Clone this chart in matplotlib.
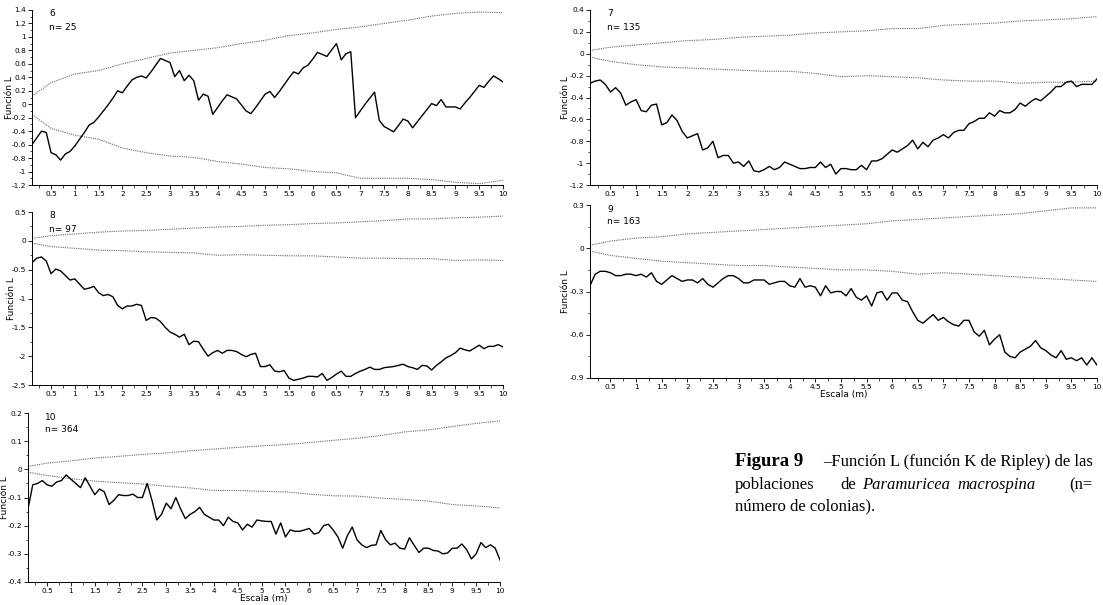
import numpy as np
import matplotlib
matplotlib.use("Agg")
import matplotlib.pyplot as plt
from matplotlib.ticker import MultipleLocator, FuncFormatter

plt.rcParams["font.family"] = "DejaVu Sans"
plt.rcParams["axes.unicode_minus"] = False

# distance classes (m) of the L function, every 0.1 m
escala = np.round(np.arange(1, 101) * 0.1, 1)
# confidence envelopes were read every 0.5 m
env_x = [0.1, 0.5, 1.0, 1.5, 2.0, 2.5, 3.0, 3.5, 4.0, 4.5, 5.0,
         5.5, 6.0, 6.5, 7.0, 7.5, 8.0, 8.5, 9.0, 9.5, 10.0]

# population 6, n = 25
L6 = [-0.60, -0.50, -0.40, -0.42, -0.72, -0.75, -0.83, -0.74, -0.70, -0.62,
      -0.52, -0.42, -0.31, -0.27, -0.19, -0.10, -0.01, 0.09, 0.20, 0.17,
      0.27, 0.36, 0.40, 0.42, 0.39, 0.48, 0.58, 0.68, 0.65, 0.62,
      0.41, 0.50, 0.35, 0.43, 0.35, 0.06, 0.15, 0.12, -0.15, -0.05,
      0.05, 0.14, 0.11, 0.08, -0.01, -0.10, -0.14, -0.05, 0.05, 0.15,
      0.19, 0.10, 0.19, 0.29, 0.39, 0.48, 0.45, 0.54, 0.58, 0.67,
      0.77, 0.74, 0.71, 0.81, 0.90, 0.66, 0.75, 0.78, -0.20, -0.10,
      0.00, 0.09, 0.18, -0.24, -0.33, -0.37, -0.41, -0.32, -0.22, -0.25,
      -0.35, -0.26, -0.17, -0.08, 0.01, -0.02, 0.07, -0.04, -0.04, -0.04,
      -0.07, 0.02, 0.10, 0.19, 0.28, 0.25, 0.34, 0.42, 0.38, 0.33]
L6_up = [0.12, 0.32, 0.45, 0.50, 0.60, 0.68, 0.76, 0.80, 0.84, 0.90, 0.95,
         1.02, 1.06, 1.11, 1.15, 1.20, 1.25, 1.31, 1.35, 1.37, 1.36]
L6_lo = [-0.15, -0.36, -0.46, -0.52, -0.65, -0.72, -0.77, -0.79, -0.85, -0.89, -0.94,
         -0.96, -1.00, -1.02, -1.10, -1.10, -1.10, -1.12, -1.16, -1.18, -1.13]

# population 7, n = 135
L7 = [-0.27, -0.25, -0.24, -0.28, -0.35, -0.31, -0.36, -0.47, -0.44, -0.42,
      -0.52, -0.53, -0.47, -0.46, -0.65, -0.63, -0.56, -0.61, -0.71, -0.77,
      -0.75, -0.73, -0.88, -0.86, -0.80, -0.95, -0.93, -0.93, -1.00, -0.99,
      -1.03, -0.98, -1.07, -1.08, -1.06, -1.03, -1.06, -1.04, -0.99, -1.01,
      -1.03, -1.05, -1.05, -1.04, -1.04, -0.99, -1.04, -1.01, -1.10, -1.05,
      -1.05, -1.06, -1.06, -1.02, -1.06, -0.98, -0.98, -0.96, -0.92, -0.88,
      -0.90, -0.87, -0.84, -0.79, -0.87, -0.81, -0.85, -0.79, -0.77, -0.74,
      -0.77, -0.72, -0.70, -0.70, -0.64, -0.62, -0.59, -0.59, -0.54, -0.57,
      -0.52, -0.54, -0.54, -0.51, -0.45, -0.48, -0.44, -0.41, -0.43, -0.39,
      -0.35, -0.30, -0.30, -0.26, -0.25, -0.30, -0.28, -0.28, -0.28, -0.23]
L7_up = [0.03, 0.06, 0.08, 0.10, 0.12, 0.13, 0.15, 0.16, 0.17, 0.19, 0.20,
         0.21, 0.23, 0.23, 0.26, 0.27, 0.28, 0.30, 0.31, 0.32, 0.34]
L7_lo = [-0.03, -0.07, -0.10, -0.12, -0.13, -0.14, -0.15, -0.16, -0.16, -0.18, -0.21,
         -0.20, -0.21, -0.22, -0.24, -0.25, -0.25, -0.27, -0.26, -0.26, -0.25]

# population 8, n = 97
L8 = [-0.38, -0.30, -0.28, -0.35, -0.57, -0.49, -0.52, -0.60, -0.68, -0.66,
      -0.75, -0.84, -0.82, -0.79, -0.90, -0.95, -0.93, -0.97, -1.12, -1.18,
      -1.13, -1.13, -1.10, -1.12, -1.38, -1.33, -1.34, -1.40, -1.50, -1.58,
      -1.62, -1.67, -1.62, -1.80, -1.74, -1.75, -1.88, -2.00, -1.94, -1.90,
      -1.95, -1.90, -1.90, -1.92, -1.97, -2.01, -1.97, -1.95, -2.18, -2.18,
      -2.15, -2.26, -2.27, -2.25, -2.38, -2.42, -2.40, -2.38, -2.35, -2.35,
      -2.36, -2.30, -2.42, -2.37, -2.31, -2.26, -2.35, -2.35, -2.30, -2.26,
      -2.23, -2.19, -2.23, -2.23, -2.20, -2.19, -2.18, -2.16, -2.14, -2.18,
      -2.20, -2.23, -2.16, -2.17, -2.24, -2.16, -2.10, -2.03, -1.99, -1.94,
      -1.86, -1.89, -1.91, -1.86, -1.81, -1.87, -1.83, -1.83, -1.80, -1.84]
L8_up = [0.04, 0.09, 0.12, 0.15, 0.17, 0.18, 0.20, 0.22, 0.24, 0.25, 0.27,
         0.28, 0.30, 0.31, 0.33, 0.35, 0.38, 0.38, 0.40, 0.41, 0.43]
L8_lo = [-0.04, -0.10, -0.13, -0.16, -0.17, -0.19, -0.20, -0.21, -0.25, -0.24, -0.25,
         -0.26, -0.26, -0.28, -0.30, -0.30, -0.31, -0.31, -0.34, -0.33, -0.34]

# population 9, n = 163
L9 = [-0.26, -0.18, -0.16, -0.16, -0.17, -0.19, -0.19, -0.18, -0.18, -0.19,
      -0.18, -0.20, -0.17, -0.23, -0.25, -0.22, -0.19, -0.21, -0.23, -0.22,
      -0.22, -0.24, -0.21, -0.25, -0.27, -0.24, -0.21, -0.19, -0.19, -0.21,
      -0.24, -0.24, -0.22, -0.22, -0.22, -0.25, -0.24, -0.23, -0.23, -0.26,
      -0.27, -0.21, -0.27, -0.26, -0.27, -0.33, -0.26, -0.31, -0.30, -0.30,
      -0.33, -0.28, -0.34, -0.36, -0.33, -0.40, -0.31, -0.30, -0.36, -0.31,
      -0.31, -0.36, -0.37, -0.44, -0.50, -0.52, -0.49, -0.46, -0.50, -0.48,
      -0.51, -0.53, -0.54, -0.50, -0.50, -0.58, -0.61, -0.57, -0.67, -0.63,
      -0.60, -0.72, -0.75, -0.76, -0.72, -0.70, -0.68, -0.64, -0.69, -0.71,
      -0.74, -0.76, -0.71, -0.77, -0.76, -0.78, -0.76, -0.81, -0.76, -0.81]
L9_up = [0.02, 0.05, 0.07, 0.08, 0.10, 0.11, 0.12, 0.13, 0.14, 0.15, 0.16,
         0.17, 0.19, 0.20, 0.21, 0.22, 0.23, 0.24, 0.26, 0.28, 0.28]
L9_lo = [-0.02, -0.05, -0.07, -0.09, -0.10, -0.11, -0.12, -0.12, -0.13, -0.14, -0.15,
         -0.15, -0.16, -0.18, -0.17, -0.18, -0.19, -0.20, -0.21, -0.22, -0.23]

# population 10, n = 364
L10 = [-0.140, -0.055, -0.050, -0.040, -0.055, -0.060, -0.045, -0.040, -0.020, -0.035,
       -0.050, -0.065, -0.030, -0.060, -0.090, -0.070, -0.080, -0.125, -0.110, -0.090,
       -0.093, -0.093, -0.088, -0.100, -0.100, -0.050, -0.110, -0.180, -0.160, -0.120,
       -0.140, -0.100, -0.140, -0.175, -0.160, -0.150, -0.135, -0.160, -0.170, -0.180,
       -0.180, -0.200, -0.170, -0.185, -0.190, -0.215, -0.195, -0.205, -0.180, -0.183,
       -0.185, -0.185, -0.230, -0.190, -0.240, -0.215, -0.220, -0.220, -0.215, -0.210,
       -0.230, -0.225, -0.200, -0.195, -0.215, -0.240, -0.280, -0.235, -0.205, -0.250,
       -0.268, -0.278, -0.270, -0.268, -0.217, -0.250, -0.268, -0.262, -0.280, -0.283,
       -0.243, -0.270, -0.295, -0.280, -0.280, -0.288, -0.290, -0.300, -0.297, -0.280,
       -0.280, -0.265, -0.285, -0.318, -0.300, -0.260, -0.278, -0.268, -0.280, -0.322]
L10_up = [0.010, 0.022, 0.030, 0.040, 0.046, 0.053, 0.058, 0.066, 0.072, 0.078, 0.083,
          0.088, 0.095, 0.103, 0.110, 0.120, 0.133, 0.140, 0.152, 0.163, 0.172]
L10_lo = [-0.010, -0.022, -0.033, -0.042, -0.047, -0.052, -0.060, -0.066, -0.075, -0.075, -0.078,
          -0.080, -0.088, -0.094, -0.095, -0.102, -0.107, -0.113, -0.125, -0.130, -0.137]

W, H = 1103, 605
fig = plt.figure(figsize=(W / 100, H / 100), dpi=100)


def box(left, top, right, bottom):
    # pixel box -> figure fraction rectangle
    return [left / W, 1 - bottom / H, (right - left) / W, (bottom - top) / H]


def fmt(v, pos):
    s = "%g" % round(v, 3)
    return "0" if s in ("-0", "0") else s


panels = [
    # label, n, main, upper, lower, ylim, ystep, pixel box, ylabel x (px), xlabel gap (px)
    ("6", 25, L6, L6_up, L6_lo, (-1.2, 1.4), 0.2, (32, 10, 503, 185), 9, None),
    ("7", 135, L7, L7_up, L7_lo, (-1.2, 0.4), 0.2, (590, 10, 1097, 185), 566, None),
    ("8", 97, L8, L8_up, L8_lo, (-2.5, 0.5), 0.5, (32, 212, 503, 385), 11, None),
    ("9", 163, L9, L9_up, L9_lo, (-0.9, 0.3), 0.3, (590, 205, 1097, 378), 566, 12),
    ("10", 364, L10, L10_up, L10_lo, (-0.4, 0.2), 0.1, (28, 413, 500, 582), 5, 12),
]

for lab, n, main, up, lo, ylim, ystep, pbox, ylab_x, xgap in panels:
    left, top, right, bottom = pbox
    pw, ph = right - left, bottom - top
    ax = fig.add_axes(box(*pbox))
    ax.plot(env_x, up, color="#666666", lw=0.8, ls=(0, (1, 1)))
    ax.plot(env_x, lo, color="#666666", lw=0.8, ls=(0, (1, 1)))
    ax.plot(escala, main, color="black", lw=1.0)
    ax.set_xlim(0.1, 10)
    ax.set_ylim(*ylim)
    ax.xaxis.set_major_locator(MultipleLocator(0.5))
    ax.xaxis.set_minor_locator(MultipleLocator(0.25))
    ax.yaxis.set_major_locator(MultipleLocator(ystep))
    ax.yaxis.set_minor_locator(MultipleLocator(ystep / 2))
    ax.xaxis.set_major_formatter(FuncFormatter(fmt))
    ax.yaxis.set_major_formatter(FuncFormatter(fmt))
    ax.tick_params(which="major", length=3, width=0.6, labelsize=5.3, pad=1.2)
    ax.tick_params(which="minor", length=1.8, width=0.5)
    for side in ["top", "right"]:
        ax.spines[side].set_visible(False)
    for side in ["left", "bottom"]:
        ax.spines[side].set_linewidth(0.7)
    ax.set_ylabel("Función L", fontsize=6.5, va="center")
    ax.yaxis.set_label_coords((ylab_x - left) / pw, 0.5)
    if xgap is not None:
        ax.set_xlabel("Escala (m)", fontsize=6.5, va="top")
        ax.xaxis.set_label_coords(0.5, -xgap / ph)
    ax.text(17 / pw, 1 - 4 / ph, lab, transform=ax.transAxes, fontsize=6.5, va="center")
    ax.text(17 / pw, 1 - 17 / ph, "n= %d" % n, transform=ax.transAxes, fontsize=6.5, va="center")

# figure caption
serif = "Liberation Serif"
cs = 12


def px(x, y):
    return x / W, 1 - y / H


fig.text(*px(735, 462), "Figura 9", fontsize=13.5, family=serif, weight="bold", va="center")
fig.text(*px(1093, 462), "–Función L (función K de Ripley) de las",
         fontsize=cs, family=serif, va="center", ha="right")
fig.text(*px(735, 485), "poblaciones", fontsize=cs, family=serif, va="center")
fig.text(*px(840, 485), "de", fontsize=cs, family=serif, va="center")
fig.text(*px(862, 485), "Paramuricea", fontsize=cs, family=serif, style="italic", va="center")
fig.text(*px(957, 485), "macrospina", fontsize=cs, family=serif, style="italic", va="center")
fig.text(*px(1093, 485), "(n=", fontsize=cs, family=serif, va="center", ha="right")
fig.text(*px(735, 506), "número de colonias).", fontsize=cs, family=serif, va="center")

fig.savefig("out.png", dpi=100)
